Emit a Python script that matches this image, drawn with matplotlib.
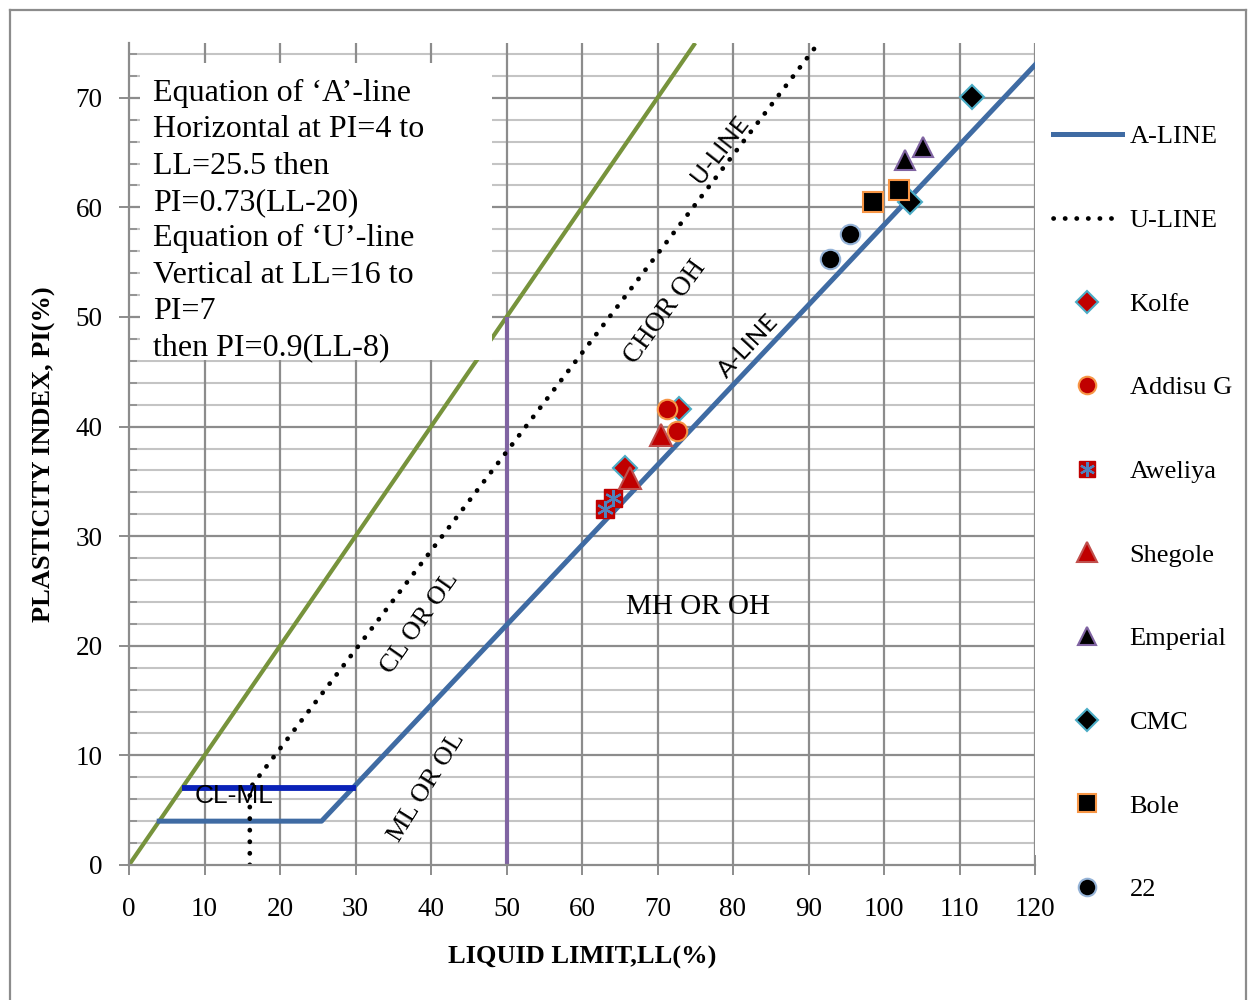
import matplotlib
matplotlib.use("Agg")
import matplotlib.pyplot as plt
from matplotlib.lines import Line2D
from matplotlib.patches import Rectangle
from matplotlib.legend_handler import HandlerTuple

plt.rcParams['font.family'] = ['Liberation Serif', 'DejaVu Serif']

# ---- reference lines ----
a_line_ll = [4, 25.5, 120]
a_line_pi = [4, 4, 73]
u_line_ll = [16, 16, 91.33]
u_line_pi = [0, 7, 75]
green_ll = [0, 75]
green_pi = [0, 75]
ll50_ll = [50, 50]
ll50_pi = [0, 50]
clml_ll = [7, 30]
clml_pi = [7, 7]

# ---- soil samples (LL, PI) ----
kolfe_ll = [72.9, 65.7]
kolfe_pi = [41.6, 36.2]
addisu_ll = [71.2, 72.6]
addisu_pi = [41.6, 39.6]
aweliya_ll = [63.0, 64.1]
aweliya_pi = [32.5, 33.5]
shegole_ll = [70.4, 66.3]
shegole_pi = [39.2, 35.3]
emperial_ll = [102.8, 105.2]
emperial_pi = [64.3, 65.5]
cmc_ll = [111.7, 103.4]
cmc_pi = [70.1, 60.5]
bole_ll = [98.5, 102.0]
bole_pi = [60.5, 61.6]
s22_ll = [92.8, 95.5]
s22_pi = [55.3, 57.6]

x_ticks = list(range(0, 121, 10))
y_ticks = list(range(0, 71, 10))

fig = plt.figure(figsize=(12.55, 10), dpi=100)
ax = fig.add_axes([129/1255, 135/1000, 906/1255, 822/1000])
ax.set_xlim(0, 120)
ax.set_ylim(0, 75)

# grid
for v in range(2, 75, 2):
    major = (v % 10 == 0)
    ax.axhline(v, color='#8c8c8c' if major else '#c4c4c4', lw=1.6 if major else 1.5, zorder=0.5)
for v in range(10, 121, 10):
    ax.axvline(v, color='#8c8c8c', lw=1.6, zorder=0.6)

for s in ['top', 'right']:
    ax.spines[s].set_visible(False)
for s in ['left', 'bottom']:
    ax.spines[s].set_color('#8c8c8c')
    ax.spines[s].set_linewidth(1.6)

ax.set_xticks(x_ticks)
ax.set_yticks(y_ticks)
ax.set_yticks(list(range(2, 75, 2)), minor=True)
ax.tick_params(axis='both', which='major', direction='inout', length=14, width=1.4,
               color='#8c8c8c', labelsize=19.5)
ax.tick_params(axis='y', which='minor', direction='in', length=6, width=1.2, color='#8c8c8c')
ax.tick_params(axis='x', which='major', pad=16)
ax.tick_params(axis='y', which='major', pad=12)

# lines
ax.plot(green_ll, green_pi, color='#77933C', lw=3.0, zorder=2, solid_capstyle='butt')
ax.plot(ll50_ll, ll50_pi, color='#8064A2', lw=3.0, zorder=2, solid_capstyle='butt')
ax.plot(clml_ll, clml_pi, color='#0A22B8', lw=4.2, zorder=2.2, solid_capstyle='butt')
a_ln, = ax.plot(a_line_ll, a_line_pi, color='#3F6BA3', lw=3.6, zorder=2.1, label='A-LINE')
u_ln, = ax.plot(u_line_ll, u_line_pi, color='black', lw=3.4, linestyle=(0, (0.05, 2.4)),
                dash_capstyle='round', zorder=2.1, label='U-LINE')

# white text box
ax.add_patch(Rectangle((0.012, 0.614), 0.389, 0.362, transform=ax.transAxes,
                       facecolor='white', edgecolor='none', zorder=3))
eq_text = ("Equation of \u2018A\u2019-line\nHorizontal at PI=4 to\nLL=25.5 then\n"
           "PI=0.73(LL-20)\nEquation of \u2018U\u2019-line\nVertical at LL=16 to\nPI=7\n"
           "then PI=0.9(LL-8)")
ax.text(0.0265, 0.956, eq_text, transform=ax.transAxes, ha='left', va='top',
        fontsize=23, linespacing=1.33, zorder=4)

# markers
k = ax.plot(kolfe_ll, kolfe_pi, 'D', ms=12, mfc='#C00000', mec='#4BACC6', mew=1.5, ls='none', zorder=5)[0]
a = ax.plot(addisu_ll, addisu_pi, 'o', ms=14, mfc='#C00000', mec='#F79646', mew=1.5, ls='none', zorder=5)[0]
aw1 = ax.plot(aweliya_ll, aweliya_pi, 's', ms=13, mfc='#C00000', mec='#C00000', mew=1, ls='none', zorder=5)[0]
aw2 = ax.plot(aweliya_ll, aweliya_pi, marker=(6, 2, 0), ms=12, mec='#4F81BD', mew=1.6, ls='none', zorder=5.1)[0]
sh = ax.plot(shegole_ll, shegole_pi, '^', ms=16, mfc='#C00000', mec='#C0504D', mew=1.5, ls='none', zorder=5)[0]
em = ax.plot(emperial_ll, emperial_pi, '^', ms=15, mfc='black', mec='#8064A2', mew=1.5, ls='none', zorder=5)[0]
cm = ax.plot(cmc_ll, cmc_pi, 'D', ms=12, mfc='black', mec='#4BACC6', mew=1.5, ls='none', zorder=5)[0]
bo = ax.plot(bole_ll, bole_pi, 's', ms=14, mfc='black', mec='#F79646', mew=1.5, ls='none', zorder=5)[0]
tw = ax.plot(s22_ll, s22_pi, 'o', ms=14, mfc='black', mec='#95B3D7', mew=1.5, ls='none', zorder=5)[0]

# region labels
ax.text(78.3, 65.2, 'U-LINE', family='Lato', fontsize=17.5, rotation=52, ha='center', va='center', zorder=4)
ax.text(82.0, 47.3, 'A-LINE', family='Lato', fontsize=17.5, rotation=47, ha='center', va='center', zorder=4)
ax.text(71.0, 50.4, 'CHOR OH', fontsize=19.5, rotation=54, ha='center', va='center', zorder=4)
ax.text(38.5, 22.1, 'CL OR OL', fontsize=19, rotation=55, ha='center', va='center', zorder=4)
ax.text(39.5, 7.1, 'ML OR OL', fontsize=19, rotation=58, ha='center', va='center', zorder=4)
ax.text(75.4, 23.5, 'MH OR OH', fontsize=21, ha='center', va='center', zorder=4)
ax.text(13.9, 6.3, 'CL-ML', family='Liberation Sans', fontsize=19, ha='center', va='center', zorder=4)

ax.set_xlabel('LIQUID LIMIT,LL(%)', fontsize=19, fontweight='bold', labelpad=17)
ax.set_ylabel('PLASTICITY INDEX, PI(%)', fontsize=19, fontweight='bold', labelpad=14)

handles = [a_ln, u_ln, k, a, (aw1, aw2), sh, em, cm, bo, tw]
labels = ['A-LINE', 'U-LINE', 'Kolfe', 'Addisu G', 'Aweliya', 'Shegole', 'Emperial', 'CMC', 'Bole', '22']
fig.legend(handles, labels, loc='upper left', bbox_to_anchor=(1053/1255, 1 - 125/1000),
           frameon=False, fontsize=19, handlelength=2.6, handletextpad=0.3,
           labelspacing=2.28, borderaxespad=0, borderpad=0, markerscale=0.9,
           handler_map={tuple: HandlerTuple(ndivide=1)})

# outer border
fig.add_artist(Line2D([10/1255, 10/1255], [0, 1 - 10/1000], color='#8c8c8c', lw=1.6))
fig.add_artist(Line2D([10/1255, 1246/1255], [1 - 10/1000, 1 - 10/1000], color='#8c8c8c', lw=1.6))
fig.add_artist(Line2D([1246/1255, 1246/1255], [0, 1 - 10/1000], color='#8c8c8c', lw=1.6))

fig.savefig('out.png', dpi=100)
